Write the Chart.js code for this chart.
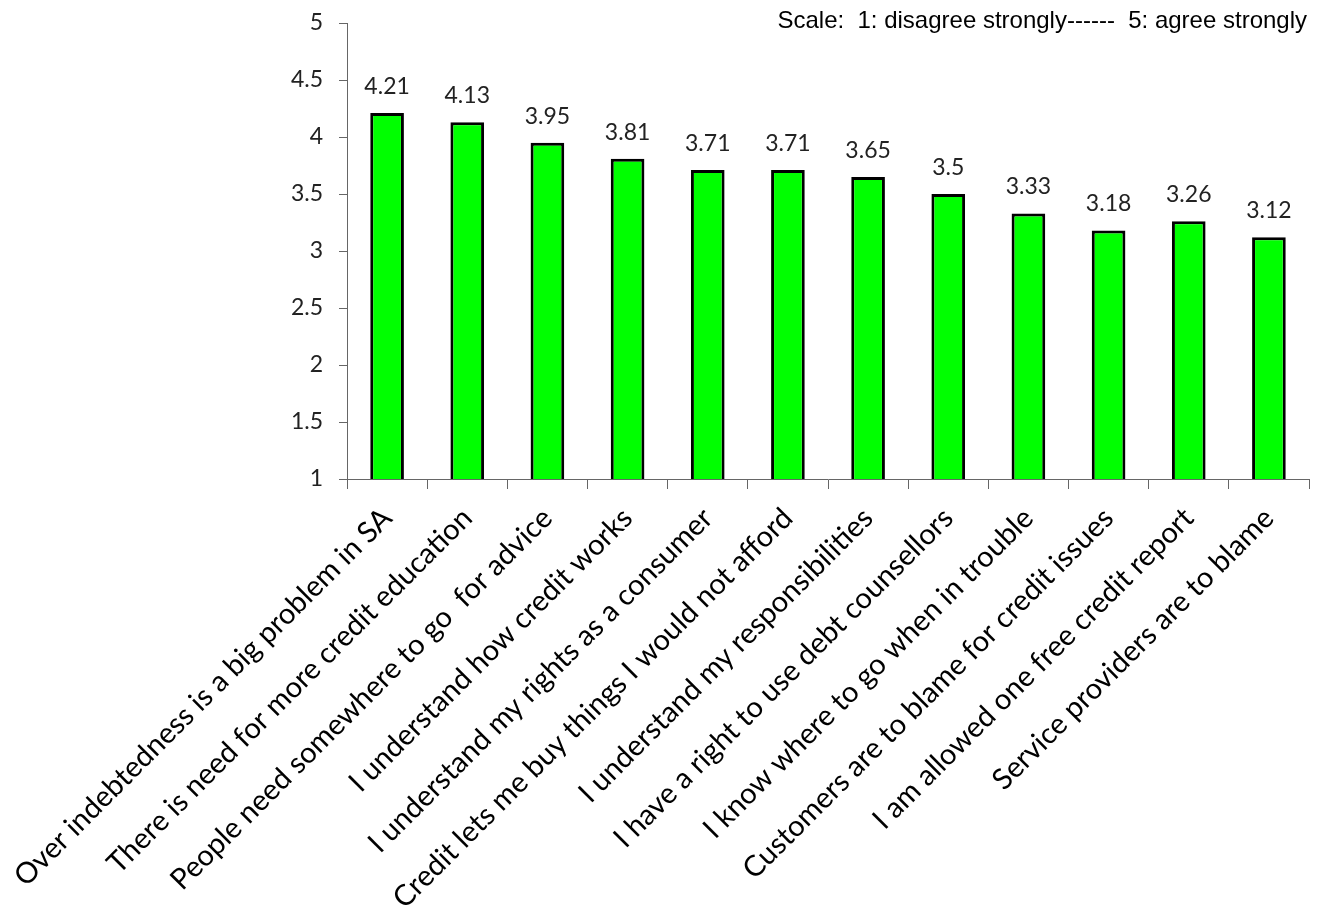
<!DOCTYPE html>
<html>
<head>
<meta charset="utf-8">
<script src="https://cdn.jsdelivr.net/npm/chart.js@4"></script>
<style>
  html, body { margin: 0; padding: 0; background: #fff; }
  #wrap { position: relative; width: 1320px; height: 920px; }
</style>
</head>
<body>
<div id="wrap"><canvas id="chart"></canvas></div>
<script>
  var categories = [
    'Over indebtedness is a big problem in SA',
    'There is need for more credit education',
    'People need somewhere to go  for advice',
    'I understand how credit works',
    'I understand my rights as a consumer',
    'Credit lets me buy things I would not afford',
    'I understand my responsibilities',
    'I have a right to use debt counsellors',
    'I know where to go when in trouble',
    'Customers are to blame for credit issues',
    'I am allowed one free credit report',
    'Service providers are to blame'
  ];
  var values = [4.21, 4.13, 3.95, 3.81, 3.71, 3.71, 3.65, 3.5, 3.33, 3.18, 3.26, 3.12];
  var scaleNote = 'Scale:  1: disagree strongly------  5: agree strongly';

  var labelFont = 'Lato, "Open Sans", sans-serif';

  // numbers above each bar
  var valueLabels = {
    id: 'valueLabels',
    afterDatasetsDraw: function (chart) {
      var ctx = chart.ctx;
      var meta = chart.getDatasetMeta(0);
      ctx.save();
      ctx.font = '23px ' + labelFont;
      ctx.fillStyle = '#222';
      ctx.textAlign = 'center';
      ctx.textBaseline = 'alphabetic';
      meta.data.forEach(function (bar, i) {
        ctx.fillText(String(values[i]), bar.x, bar.y - 19);
      });
      ctx.restore();
    }
  };

  // scale note in the top right corner
  var noteText = {
    id: 'noteText',
    afterDraw: function (chart) {
      var ctx = chart.ctx;
      ctx.save();
      ctx.font = '24px "Liberation Sans", Arial, sans-serif';
      ctx.fillStyle = '#000';
      ctx.textAlign = 'right';
      ctx.textBaseline = 'alphabetic';
      ctx.fillText(scaleNote, chart.width - 13, 28);
      ctx.restore();
    }
  };

  new Chart(document.getElementById('chart'), {
    type: 'bar',
    data: {
      labels: categories,
      datasets: [{
        data: values,
        backgroundColor: '#00ff00',
        borderColor: '#000',
        borderWidth: 3,
        borderSkipped: false,
        barPercentage: 0.42,
        categoryPercentage: 1
      }]
    },
    options: {
      responsive: true,
      maintainAspectRatio: false,
      animation: false,
      layout: { padding: { top: 23, right: 11, left: 0, bottom: 0 } },
      plugins: {
        legend: { display: false },
        tooltip: { enabled: false }
      },
      scales: {
        x: {
          grid: {
            offset: true,
            drawOnChartArea: false,
            drawTicks: true,
            tickLength: 10,
            color: '#666'
          },
          border: { color: '#666', width: 1 },
          ticks: {
            autoSkip: false,
            maxRotation: 45,
            minRotation: 45,
            color: '#000',
            padding: 12,
            font: { family: labelFont, size: 29 }
          },
          afterFit: function (scale) {
            scale.height = 441;
            scale.paddingLeft = 0;
            scale.paddingRight = 0;
            scale.paddingTop = 0;
            scale.paddingBottom = 0;
          }
        },
        y: {
          min: 1,
          max: 5,
          grid: {
            drawOnChartArea: false,
            drawTicks: true,
            tickLength: 8,
            color: '#666'
          },
          border: { color: '#666', width: 1 },
          ticks: {
            stepSize: 0.5,
            color: '#222',
            padding: 16,
            font: { family: labelFont, size: 23 },
            callback: function (v) { return String(v); }
          },
          afterFit: function (scale) {
            scale.width = 347;
            scale.paddingTop = 0;
            scale.paddingBottom = 0;
            scale.paddingLeft = 0;
            scale.paddingRight = 0;
          }
        }
      }
    },
    plugins: [valueLabels, noteText]
  });
</script>
</body>
</html>
